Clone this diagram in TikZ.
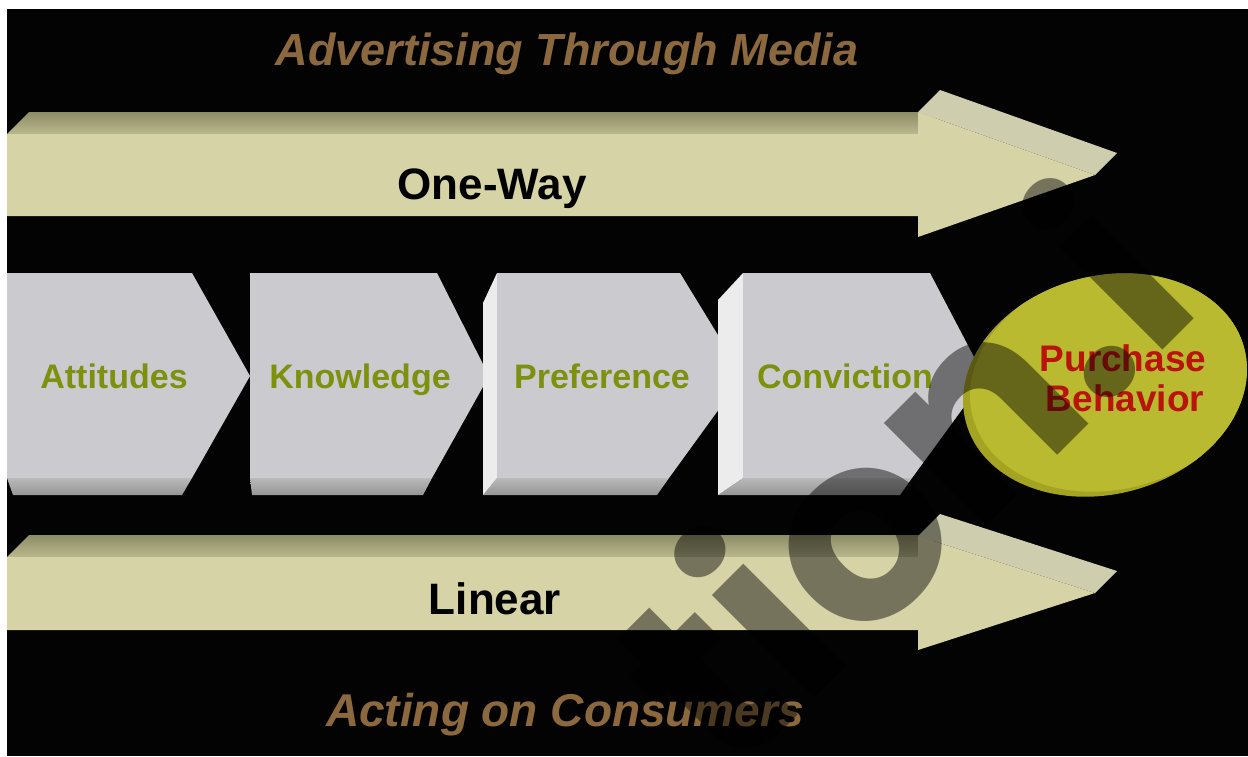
\documentclass[tikz,border=0pt]{standalone}
\usepackage{fontspec}
\setmainfont{Liberation Sans}
\newfontfamily\wmfont{Poppins}
\definecolor{pagebg}{RGB}{3,3,3}
\definecolor{creamfront}{RGB}{214,211,166}
\definecolor{creamtopA}{RGB}{140,140,102}
\definecolor{creamtopB}{RGB}{186,184,142}
\definecolor{creamhead}{RGB}{206,206,174}
\definecolor{chevfront}{RGB}{203,203,207}
\definecolor{chevleft}{RGB}{236,236,236}
\definecolor{chevbotA}{RGB}{185,185,185}
\definecolor{chevbotB}{RGB}{150,150,150}
\definecolor{olivetext}{RGB}{125,145,15}
\definecolor{titlebrown}{RGB}{140,104,62}
\definecolor{discdark}{RGB}{165,163,34}
\definecolor{disclight}{RGB}{186,186,48}
\definecolor{discred}{RGB}{185,20,10}
\begin{document}
\begin{tikzpicture}[x=0.5pt,y=-0.5pt,
  titletext/.style={text=titlebrown,font=\bfseries\itshape\fontsize{22.5}{26}\selectfont,inner sep=0pt},
  arrowtext/.style={text=black,font=\bfseries\fontsize{22}{26}\selectfont,inner sep=0pt},
  steptext/.style={text=olivetext,font=\bfseries\fontsize{17}{20}\selectfont,inner sep=0pt},
  disctext/.style={text=discred,font=\bfseries\fontsize{18.5}{22}\selectfont,inner sep=0pt},
  shafttop/.style={top color=creamtopA,bottom color=creamtopB},
  chevbottom/.style={top color=chevbotA,bottom color=chevbotB},
  wmark/.style={text=black,text opacity=0.45,font=\wmfont\bfseries\fontsize{130}{130}\selectfont,inner sep=0pt}]
\useasboundingbox (0,0) rectangle (1248,756);
\fill[white] (0,0) rectangle (1248,756);
\fill[pagebg] (7,9) rectangle (1248,756);

% ---------- upper block arrow ----------
\shade[shafttop] (7,134) -- (29,112) -- (940,112) -- (918,134) -- cycle;
\fill[creamhead] (918,112) -- (940,90) -- (1117,153) -- (1095,175) -- cycle;
\fill[creamfront] (7,134) -- (918,134) -- (918,112) -- (1095,175) -- (918,237) -- (918,216) -- (7,216) -- cycle;

% ---------- lower block arrow ----------
\shade[shafttop] (7,557) -- (29,535) -- (940,535) -- (918,557) -- cycle;
\fill[creamhead] (918,536) -- (940,514) -- (1117,571) -- (1095,593) -- cycle;
\fill[creamfront] (7,557) -- (918,557) -- (918,536) -- (1095,593) -- (918,650) -- (918,630) -- (7,630) -- cycle;

% ---------- chevron steps ----------
% step 1
\shade[chevbottom] (7,478) -- (192,478) -- (182,495) -- (13,495) -- cycle;
\fill[chevfront] (7,273) -- (192,273) -- (250,376) -- (192,478) -- (7,478) -- cycle;
% step 2
\shade[chevbottom] (250,478) -- (432,478) -- (423,495) -- (252,495) -- cycle;
\fill[chevfront] (250,273) -- (437,273) -- (489,376) -- (432,478) -- (250,478) -- cycle;
% step 3
\shade[chevbottom] (497,478) -- (669,478) -- (657,495) -- (483,495) -- cycle;
\fill[chevleft] (483,303) -- (497,273) -- (497,478) -- (483,495) -- cycle;
\fill[chevfront] (497,273) -- (680,273) -- (743,376) -- (669,478) -- (497,478) -- cycle;
% step 4
\shade[chevbottom] (743,478) -- (912,478) -- (900,495) -- (718,495) -- cycle;
\fill[chevleft] (718,300) -- (743,273) -- (743,478) -- (718,495) -- cycle;
\fill[chevfront] (743,273) -- (930,273) -- (985,378) -- (912,478) -- (743,478) -- cycle;

% ---------- purchase disc ----------
\begin{scope}
  \clip[rotate around={15:(1105,385)}] (1105,385) ellipse [x radius=72pt, y radius=54.5pt];
  \fill[discdark] (950,260) rectangle (1248,510);
  \fill[disclight, rotate around={15:(1112,380)}] (1112,380) ellipse [x radius=72pt, y radius=54.5pt];
\end{scope}

% ---------- texts ----------
\node[titletext, anchor=base] (ttop) at (567,65) {Advertising Through Media};
\node[titletext, anchor=base, font=\bfseries\itshape\fontsize{23}{26}\selectfont] (tbot) at (565,726) {Acting on Consumers};
\node[arrowtext, anchor=base] (oneway) at (492,199) {One-Way};
\node[arrowtext, anchor=base] (linear) at (495,614) {Linear};
\node[steptext, anchor=base] (s1) at (114,388) {Attitudes};
\node[steptext, anchor=base] (s2) at (360,388) {Knowledge};
\node[steptext, anchor=base] (s3) at (602,388) {Preference};
\node[steptext, anchor=base] (s4) at (845,388) {Conviction};
\node[disctext, anchor=base] (p1) at (1123,371) {Purchase};
\node[disctext, anchor=base] (p2) at (1125,411) {Behavior};

% ---------- overlay lettering ----------
\node[wmark, rotate=45, anchor=base west] (wm) at (729,784) {tion.i};
\end{tikzpicture}
\end{document}
